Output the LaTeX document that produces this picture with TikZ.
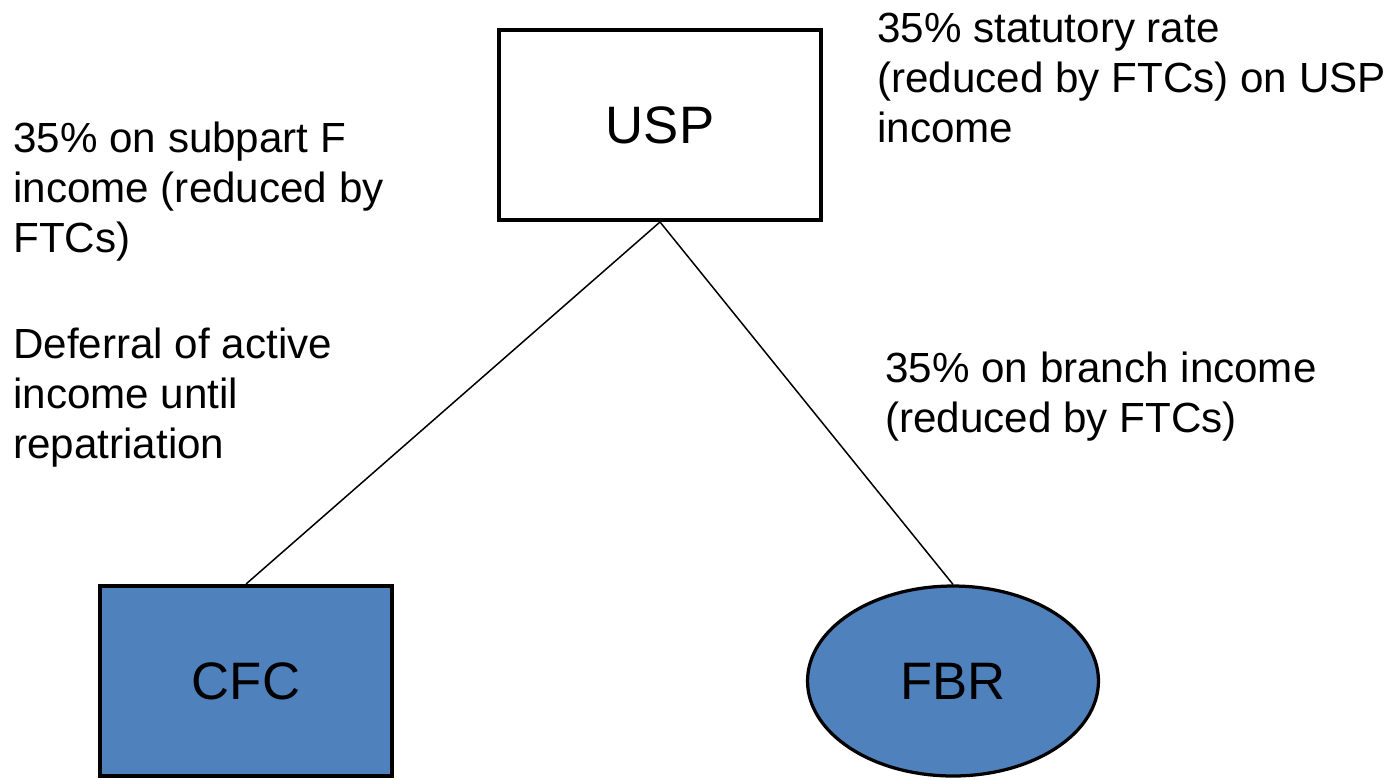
\documentclass[tikz,border=0pt]{standalone}
\usepackage{fontspec}
\setmainfont{Liberation Sans}
\usetikzlibrary{shapes.geometric}
\definecolor{entityblue}{HTML}{4F81BD}

\begin{document}
\begin{tikzpicture}[x=0.02cm, y=-0.02cm,
    entity/.style={draw=black, line width=0.08cm, minimum width=5.84cm, minimum height=3.8cm, inner sep=0pt, font=\fontsize{30}{36}\selectfont},
    note/.style={anchor=base west, align=left, inner sep=0pt, font=\fontsize{24}{28.45}\selectfont},
    link/.style={line width=0.03cm}
]
\useasboundingbox (0,0) rectangle (1396,779);

% Nodes
\node[entity, minimum width=6.44cm] (usp) at (660, 125) {USP};
\node[entity, fill=entityblue] (cfc) at (246, 681) {CFC};
\node[entity, ellipse, fill=entityblue, minimum width=5.82cm, line width=0.065cm] (fbr) at (953, 681) {FBR};

% Notes (anchored at the last line)
\node[note] (uspnote) at (877, 142) {35\% statutory rate\\(reduced by FTCs) on USP\\income};
\node[note] (subfnote) at (13, 252) {35\% on subpart F\\income (reduced by\\FTCs)};
\node[note] (defernote) at (13, 458) {Deferral of active\\income until\\repatriation};
\node[note] (branchnote) at (885, 432) {35\% on branch income\\(reduced by FTCs)};

% Paths
\draw[link] (usp.south) -- (cfc.north);
\draw[link] (usp.south) -- (fbr.north);

\end{tikzpicture}
\end{document}
